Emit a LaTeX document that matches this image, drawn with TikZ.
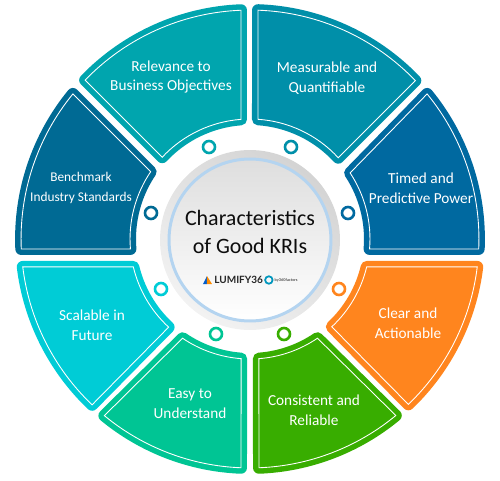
\documentclass[tikz,border=0pt]{standalone}
\usepackage{fontspec}
\setmainfont{Carlito}
\newfontfamily\logofont{Lato}
\usetikzlibrary{positioning}

\definecolor{relevcol}{HTML}{00A5AE}
\definecolor{measurecol}{HTML}{008FA9}
\definecolor{timedcol}{HTML}{0069A0}
\definecolor{benchcol}{HTML}{006A94}
\definecolor{scalecol}{HTML}{00CCD6}
\definecolor{easycol}{HTML}{00C594}
\definecolor{consistcol}{HTML}{38AD00}
\definecolor{clearcol}{HTML}{FF851E}
\definecolor{halocol}{HTML}{B4D4F0}

\tikzset{
    seglabel/.style={text=white, font=\fontsize{8.7}{11.3}\selectfont, align=center},
    dotring/.style={circle, draw=#1, line width=1.5pt, minimum size=0.24cm, inner sep=0pt},
    titlelabel/.style={font=\fontsize{12.5}{16}\selectfont, align=center, text=black!95},
}

\def\rout{4.58cm}
\def\rin{2.4cm}

% one ring piece: colour, outer start and end angle, inner start and end angle
\newcommand{\ringseg}[5]{
    \draw[white, line width=0.5pt, preaction={fill=#1, draw=#1, line width=6.8pt, line join=round}]
        (#2:\rout) arc[start angle=#2, end angle=#3, radius=\rout]
        -- (#4:\rin) arc[start angle=#4, end angle=#5, radius=\rin] -- cycle;
}

\begin{document}
\begin{tikzpicture}[x=0.02cm, y=0.02cm]
        \useasboundingbox (-250,-241) rectangle (250,239);

        \ringseg{relevcol}{92.25}{136.06}{137.02}{94.29}
        \ringseg{measurecol}{88}{43.77}{42.65}{86.19}
        \ringseg{timedcol}{39.32}{-2.49}{-4.76}{33.43}
        \ringseg{benchcol}{140.68}{182.5}{184.76}{145.9}
        \ringseg{clearcol}{-7}{-46.24}{-47.02}{-13.46}
        \ringseg{scalecol}{187}{226.4}{227.3}{193.46}
        \ringseg{consistcol}{-50.44}{-87.75}{-85.75}{-55.78}
        \ringseg{easycol}{230.5}{267.75}{265.75}{235.8}

        % Labels
        \node[seglabel] (relev) at (-79,162) {Relevance to\\Business Objectives};
        \node[seglabel] (measure) at (77,161) {Measurable and\\Quantifiable};
        \node[seglabel] (timed) at (171,51) {Timed and\\Predictive Power};
        \node[seglabel, font=\fontsize{7.6}{11.3}\selectfont] (bench) at (-169,51) {Benchmark\\Industry Standards};
        \node[seglabel] (scale) at (-158,-86) {Scalable in\\Future};
        \node[seglabel] (clear) at (158,-84) {Clear and\\Actionable};
        \node[seglabel] (easy) at (-60,-165) {Easy to\\Understand};
        \node[seglabel] (consist) at (64,-171) {Consistent and\\Reliable};

        % Small rings
        \node[dotring=relevcol] (dotrelev) at (-41,92) {};
        \node[dotring=measurecol] (dotmeasure) at (41,92) {};
        \node[dotring=timedcol] (dottimed) at (98,26) {};
        \node[dotring=benchcol] (dotbench) at (-99,26) {};
        \node[dotring=scalecol] (dotscale) at (-89,-50) {};
        \node[dotring=clearcol] (dotclear) at (89,-50) {};
        \node[dotring=easycol] (doteasy) at (-34,-95) {};
        \node[dotring=consistcol] (dotconsist) at (34,-95) {};

        % Centre disc
        \shade[top color=black!17, bottom color=black!5, shading angle=-35] (0,-1) circle (1.8cm);
        \shade[top color=black!13, bottom color=white] (0,-1) circle (1.62cm);
        \draw[halocol, line width=1.7pt] (0,-1) circle (1.62cm);

        \node[titlelabel] (title) at (0,7) {Characteristics\\of Good KRIs};

        % Logo
        \fill[blue!55!cyan!80!black] (-47,-45) -- (-43,-37) -- (-43,-45) -- cycle;
        \fill[orange!90!yellow] (-43,-45) -- (-43,-37) -- (-38,-45) -- cycle;
        \node[font=\logofont\fontsize{5.7}{6}\selectfont\bfseries, text=black!85, inner sep=0pt, anchor=west] (logotext) at (-36,-41) {LUMIFY36};
        \node[circle, draw=timedcol!70!cyan, line width=1pt, minimum size=0.15cm, inner sep=0pt, right=0.5pt of logotext] (logoring) {};
        \node[font=\logofont\fontsize{2.2}{2.2}\selectfont\bfseries, text=black!70, inner sep=0pt, right=0.5pt of logoring] (logoby) {by360factors};
\end{tikzpicture}
\end{document}
